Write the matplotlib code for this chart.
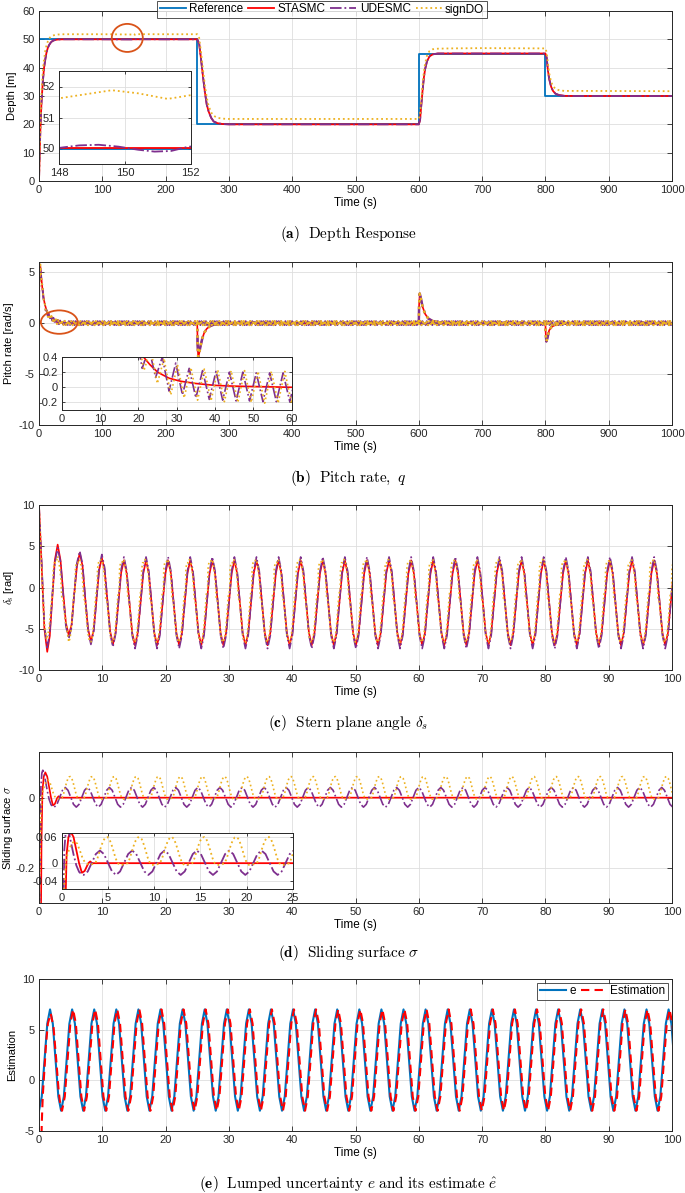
import numpy as np
import matplotlib
matplotlib.use('Agg')
import matplotlib.pyplot as plt
from matplotlib.patches import Ellipse

plt.rcParams['font.family'] = ['Liberation Sans', 'DejaVu Sans']
plt.rcParams['mathtext.fontset'] = 'cm'
plt.rcParams['axes.unicode_minus'] = False

C_REF = '#0072BD'
C_STA = '#FF0000'
C_UDE = '#7E2F8E'
C_SDO = '#EDB120'
C_MARK = '#D95319'

PERIOD = 3.49  # oscillation period (c)-(e)

# ---------------- (a) depth response ----------------
dep_ref_t = [0, 250, 250, 600, 600, 800, 800, 1000]
dep_ref = [50, 50, 20, 20, 45, 45, 30, 30]

dep_sta_t = [0, 1, 2, 3, 4, 5, 6, 7, 8, 10, 12, 14, 16, 18, 20, 23, 26, 30, 35, 40, 250,
             253, 256, 259, 262, 265, 268, 272, 276, 282, 290, 300, 600,
             602, 604, 606, 608, 610, 613, 617, 622, 630, 800,
             802, 804, 806, 809, 812, 816, 822, 830, 850, 1000]
dep_sta = [0, 9, 17, 23, 28, 31.5, 35, 37.5, 40, 43, 45.5, 47, 48, 48.7, 49.2, 49.6, 49.8, 49.95, 50.0, 50.02, 50.02,
           48.5, 43, 37, 31.5, 27, 24.5, 22.3, 21.0, 20.4, 20.1, 20.0, 20.0,
           21.5, 27, 32, 36.5, 39.5, 42.3, 44, 44.7, 45.0, 45.0,
           43.5, 39, 36, 33.3, 31.8, 30.8, 30.3, 30.05, 30.0, 30.0]

dep_ude_t = [0, 1, 2, 3, 4, 5, 6, 7, 8, 10, 12, 14, 16, 18, 20, 23, 26, 30, 35, 40, 100,
             146, 147, 148, 148.6, 149.2, 149.8, 150.4, 150.9, 151.4, 151.9, 152.3, 153, 200, 250,
             253, 256, 259, 262, 265, 268, 272, 276, 282, 290, 300, 600,
             602, 604, 606, 608, 610, 613, 617, 622, 630, 800,
             802, 804, 806, 809, 812, 816, 822, 830, 850, 1000]
dep_ude = [0, 9, 17, 23, 28, 31.5, 35, 37.5, 40, 43, 45.5, 47, 48, 48.7, 49.2, 49.6, 49.8, 49.95, 50.0, 50.02, 50.0,
           49.95, 49.97, 50.02, 50.1, 50.12, 50.06, 49.96, 49.9, 49.92, 50.05, 50.1, 50.05, 50.0, 50.0,
           48.5, 43, 37, 31.5, 27, 24.5, 22.3, 21.0, 20.4, 20.1, 20.0, 20.0,
           21.5, 27, 32, 36.5, 39.5, 42.3, 44, 44.7, 45.0, 45.0,
           43.5, 39, 36, 33.3, 31.8, 30.8, 30.3, 30.05, 30.0, 30.0]

dep_sdo_t = [0, 1, 2, 3, 4, 5, 6, 7, 8, 10, 12, 14, 16, 18, 20, 23, 26, 30, 35, 40, 60, 100,
             147, 148, 148.8, 149.6, 150.4, 151.3, 152, 152.8, 200, 250,
             253, 256, 259, 262, 265, 268, 272, 276, 282, 290, 300, 450, 600,
             602, 604, 606, 608, 610, 613, 617, 622, 630, 650, 700, 800,
             802, 804, 806, 809, 812, 816, 822, 830, 850, 1000]
dep_sdo = [0, 10, 19, 26, 31, 35, 38.5, 41, 43, 46, 48, 49.3, 50.2, 50.8, 51.1, 51.4, 51.6, 51.7, 51.75, 51.8, 51.8, 51.8,
           51.7, 51.62, 51.75, 51.88, 51.78, 51.6, 51.72, 51.82, 51.8, 51.8,
           50.5, 45.5, 39.5, 34, 29.5, 26.5, 24.2, 23.0, 22.3, 22.0, 21.9, 21.9, 21.9,
           23.5, 29, 34, 38.5, 41.5, 44.3, 45.9, 46.5, 46.7, 46.8, 46.9, 46.8,
           45.5, 41.5, 38, 35, 33.5, 32.5, 32.0, 31.8, 31.8, 31.7]

# ---------------- (b) pitch rate ----------------
q_sta_head_t = [0, 0.3, 1, 2, 3.5, 5, 7, 9, 11, 13, 16, 19, 21, 23, 25, 28, 31, 35, 40, 45, 50, 55, 60]
q_sta_head = [0, 3.5, 5.5, 5.6, 4.6, 3.6, 2.6, 1.9, 1.45, 1.05, 0.7, 0.52, 0.42, 0.3, 0.2, 0.12, 0.08, 0.05,
              0.025, 0.015, 0.01, 0.005, 0.0]
q_jump_t = [60, 250, 250.5, 251.5, 253, 255, 258, 261, 265, 270, 276, 285, 300,
            600, 600.5, 601.5, 603, 606, 610, 615, 622, 632, 650,
            800, 800.5, 801.5, 803, 806, 810, 816, 825, 840, 1000]
q_jump = [0, 0, -2.0, -3.3, -3.0, -2.3, -1.5, -0.95, -0.55, -0.3, -0.15, -0.05, 0,
          0, 1.8, 2.9, 2.5, 1.6, 0.9, 0.45, 0.2, 0.08, 0,
          0, -1.0, -1.8, -1.5, -0.7, -0.35, -0.18, -0.07, -0.02, 0]

q_ude_head_t = [0, 0.3, 1.75, 3.5, 5.25, 7.0, 8.75, 10.5, 12.25, 14.0, 15.75, 17.5, 19.25, 21.0, 22.75,
                24.5, 26.25, 28.0, 29.75, 31.5, 33.25, 35.0, 36.75, 38.5, 40.25, 42.0, 43.75, 45.5,
                47.25, 49.0, 50.75, 52.5, 54.25, 56.0, 57.75, 59.5]
q_ude_head = [0, 3.5, 5.75, 4.3, 3.7, 2.4, 2.15, 1.25, 1.25, 0.65, 0.9, 0.48, 0.75, 0.25, 0.52,
              0.13, 0.4, -0.05, 0.32, -0.1, 0.25, -0.14, 0.22, -0.16, 0.21, -0.17, 0.2, -0.18,
              0.2, -0.18, 0.19, -0.19, 0.19, -0.19, 0.19, -0.19]
q_ude_cycle = [0.19, -0.19]
q_ude_start = 61.25

q_sdo_head_t = [0, 0.3, 2.2, 3.95, 5.7, 7.45, 9.2, 10.95, 12.7, 14.45, 16.2, 17.95, 19.7, 21.45, 23.2,
                24.95, 26.7, 28.45, 30.2, 31.95, 33.7, 35.45, 37.2, 38.95, 40.7, 42.45, 44.2, 45.95,
                47.7, 49.45, 51.2, 52.95, 54.7, 56.45, 58.2, 59.95]
q_sdo_head = [0, 3.5, 5.75, 4.05, 3.45, 2.2, 1.95, 1.05, 1.15, 0.6, 0.85, 0.45, 0.7, 0.22, 0.5,
              0.05, 0.38, -0.1, 0.3, -0.14, 0.26, -0.17, 0.24, -0.18, 0.23, -0.19, 0.22, -0.2,
              0.22, -0.2, 0.21, -0.21, 0.21, -0.21, 0.21, -0.21]
q_sdo_cycle = [0.21, -0.21]
q_sdo_start = 61.7

# ---------------- (c) stern plane angle ----------------
ds_head_t = [0, 0.45, 0.85, 1.3, 1.7, 2.1, 2.5, 2.95, 3.4, 3.8, 4.25, 4.7, 5.15, 5.55, 6.0, 6.44,
             6.88, 7.3, 7.75, 8.2, 8.65, 9.07, 9.5, 9.93, 10.37, 10.8, 11.24, 11.68, 12.11, 12.55, 12.98]
ds_sta_head = [10.0, 2.0, -5.0, -7.8, -5.9, -1.3, 3.3, 5.2, 3.3, -0.4, -4.3, -5.8, -4.5, -0.9, 2.6, 4.2,
               2.6, -1.3, -5.0, -6.6, -5.1, -1.5, 2.1, 3.6, 2.1, -1.6, -5.3, -6.9, -5.4, -1.8, 1.8]
ds_ude_head = [10.0, 2.5, -4.6, -7.3, -5.5, -0.9, 3.0, 4.8, 3.1, -0.7, -4.7, -6.2, -4.8, -0.8, 3.0, 4.4,
               2.8, -1.2, -5.2, -6.9, -5.3, -1.5, 2.4, 4.0, 2.4, -1.6, -5.6, -7.2, -5.6, -1.7, 2.2]
ds_steady_start = 13.42
ds_sta_cycle = [3.3, 1.7, -1.9, -5.5, -7.0, -5.5, -1.9, 1.7]
ds_ude_cycle = [3.7, 2.0, -1.9, -5.8, -7.4, -5.8, -1.9, 2.0]

ds_sdo_head_t = [0, 0.45, 0.85, 1.2, 1.6, 2.0, 2.15, 2.25, 2.4, 2.7, 2.95, 3.2, 3.45, 3.55, 3.6, 3.8, 4.1, 4.45]
ds_sdo_head = [10.0, 1.5, -4.5, -6.3, -5.0, -1.5, -0.8, 2.0, 3.0, 3.0, 3.8, 2.8, 1.2, -0.5, -1.2, -1.5, -3.5, -5.3]
ds_sdo_start = 4.7
ds_sdo_phase = [0.0, 0.22, 0.44, 0.65, 0.8, 0.87, 1.0, 1.05, 1.2, 1.45, 1.6, 1.745, 1.95, 2.17, 2.3,
                2.35, 2.55, 2.7, 2.92, 3.14, 3.36]
ds_sdo_cycle = [-6.6, -6.1, -4.5, -2.4, -0.8, -0.6, -0.5, 2.2, 3.0, 3.0, 3.4, 3.3, 2.6, 1.2, -0.3,
                -1.3, -1.6, -2.9, -4.8, -6.1, -6.6]

# ---------------- (d) sliding surface ----------------
sig_sta_t = [0.25, 0.4, 0.55, 0.75, 1.0, 1.3, 1.6, 1.9, 2.2, 2.5, 2.9, 3.1, 3.3, 100]
sig_sta = [-0.5, -0.12, 0.02, 0.06, 0.072, 0.06, 0.03, 0.0, -0.022, -0.018, 0.0, 0.004, 0.0, 0.0]

sig_ude_head_t = [0.0, 0.15, 0.3, 0.45, 0.6, 0.8, 1.0, 1.3, 1.6, 1.9, 2.2]
sig_ude_head = [-0.5, -0.2, 0.03, 0.07, 0.078, 0.07, 0.05, 0.02, -0.005, -0.02, -0.026]
sig_ude_start = 2.4
sig_ude_cycle = [-0.027, -0.019, 0.001, 0.021, 0.029, 0.021, 0.001, -0.019]

sig_sdo_head_t = [0.0, 0.1, 0.3, 0.5, 0.8, 1.1, 1.4, 1.7, 2.0, 2.3, 2.6, 3.0, 3.4]
sig_sdo_head = [-0.5, -0.25, -0.05, 0.01, 0.03, 0.045, 0.05, 0.045, 0.028, 0.01, 0.0, -0.003, -0.002]
sig_sdo_start = 3.65
sig_sdo_cycle = [0.0, 0.01, 0.025, 0.04, 0.052, 0.059, 0.06, 0.055, 0.043, 0.028, 0.012, 0.001,
                 -0.004, -0.004, -0.003, -0.002]

# ---------------- (e) lumped uncertainty ----------------
e_start = 0.0
e_cycle = [-3.0, -1.6, 2.0, 5.6, 7.0, 5.6, 2.0, -1.6]
est_head_t = [0.3, 0.45, 0.6, 0.85, 1.1, 1.4, 1.85, 2.3, 2.7, 3.1, 3.4]
est_head = [-8.0, -4.0, -1.5, 1.0, 3.5, 5.6, 6.6, 5.2, 2.2, -1.0, -2.6]
est_start = 3.64
est_cycle = [-3.0, -1.6, 2.0, 5.6, 7.0, 5.6, 2.0, -1.6]


def periodic(head_t, head_v, t0, cycle, t_end, phase=None):
    # repeat one read-off steady-state cycle after the transient head
    cycle = np.asarray(cycle, float)
    if phase is None:
        phase = np.arange(len(cycle)) * PERIOD / len(cycle)
    n = int(np.ceil((t_end - t0) / PERIOD)) + 1
    t = (t0 + PERIOD * np.arange(n)[:, None] + np.asarray(phase)[None, :]).ravel()
    return (np.concatenate([np.asarray(head_t, float), t]),
            np.concatenate([np.asarray(head_v, float), np.tile(cycle, n)]))


q_sta_t = np.concatenate([q_sta_head_t, q_jump_t])
q_sta = np.concatenate([q_sta_head, q_jump])
q_ude_t, q_ude = periodic(q_ude_head_t, q_ude_head, q_ude_start, q_ude_cycle, 1000, [0, PERIOD / 2])
q_sdo_t, q_sdo = periodic(q_sdo_head_t, q_sdo_head, q_sdo_start, q_sdo_cycle, 1000, [0, PERIOD / 2])

ds_sta_t, ds_sta = periodic(ds_head_t, ds_sta_head, ds_steady_start, ds_sta_cycle, 100)
ds_ude_t, ds_ude = periodic(ds_head_t, ds_ude_head, ds_steady_start, ds_ude_cycle, 100)
ds_sdo_t, ds_sdo = periodic(ds_sdo_head_t, ds_sdo_head, ds_sdo_start, ds_sdo_cycle, 100, ds_sdo_phase)

sig_ude_t, sig_ude = periodic(sig_ude_head_t, sig_ude_head, sig_ude_start, sig_ude_cycle, 100)
sig_sdo_t, sig_sdo = periodic(sig_sdo_head_t, sig_sdo_head, sig_sdo_start, sig_sdo_cycle, 100)

e_t, e_val = periodic([], [], e_start, e_cycle, 100)
est_t, est_val = periodic(est_head_t, est_head, est_start, est_cycle, 100)

# ---------------- figure ----------------
W, H = 685, 1193
fig = plt.figure(figsize=(W / 100, H / 100), dpi=100)
LEFT, RIGHT = 39, 672


def rect(x0, y0, x1, y1):
    return [x0 / W, 1 - y1 / H, (x1 - x0) / W, (y1 - y0) / H]


def style(ax, inset=False):
    ax.tick_params(direction='in', top=True, right=True, length=2.5 if inset else 3.5,
                   width=0.6, labelsize=8, colors='#262626', pad=3)
    for s in ax.spines.values():
        s.set_color('#262626')
        s.set_linewidth(0.7)
    ax.grid(True, color='#DEDEDE', linewidth=0.6)
    ax.set_axisbelow(True)


def ylabel(ax, text, x_px):
    # place the y label centre at a fixed pixel column like the reference
    ax.set_ylabel(text, fontsize=8)
    ax.yaxis.label.set_va('center')
    ax.yaxis.set_label_coords((x_px - LEFT) / (RIGHT - LEFT), 0.5)


def xlabel(ax):
    ax.set_xlabel('Time (s)', fontsize=8.5, labelpad=1)


def caption(y, text):
    fig.text(0.508, 1 - y / H, text, ha='center', va='center', fontsize=11)


# (a)
ax = fig.add_axes(rect(LEFT, 11, RIGHT, 181))
style(ax)
ax.plot(dep_ref_t, dep_ref, color=C_REF, lw=1.3, label='Reference')
ax.plot(dep_sta_t, dep_sta, color=C_STA, lw=1.3, label='STASMC')
ax.plot(dep_ude_t, dep_ude, color=C_UDE, lw=1.3, ls='-.', label='UDESMC')
ax.plot(dep_sdo_t, dep_sdo, color=C_SDO, lw=1.3, ls=':', label='signDO')
ax.set_xlim(0, 1000)
ax.set_ylim(0, 60)
ax.set_xticks(range(0, 1001, 100))
ax.set_yticks(range(0, 61, 10))
xlabel(ax)
ylabel(ax, 'Depth [m]', 12)
ax.add_patch(Ellipse((139.5, 50.5), 49, 9.9, fill=False, ec=C_MARK, lw=1.3, zorder=6))
leg = ax.legend(loc='center', bbox_to_anchor=(322 / W, 1 - 9.5 / H), bbox_transform=fig.transFigure,
                ncol=4, fontsize=8.5, frameon=True, fancybox=False, edgecolor='#262626',
                handlelength=2.2, handletextpad=0.3, columnspacing=0.4, borderpad=0.25,
                borderaxespad=0)
leg.get_frame().set_linewidth(0.7)
leg.set_zorder(10)

axi = fig.add_axes(rect(59.3, 71, 190.7, 164))
style(axi, inset=True)
axi.plot(dep_ref_t, dep_ref, color=C_REF, lw=1.3)
axi.plot(dep_sta_t, dep_sta, color=C_STA, lw=1.3)
axi.plot(dep_ude_t, dep_ude, color=C_UDE, lw=1.3, ls='-.')
axi.plot(dep_sdo_t, dep_sdo, color=C_SDO, lw=1.3, ls=':')
axi.set_xlim(148, 152)
axi.set_ylim(49.5, 52.5)
axi.set_xticks([148, 150, 152])
axi.set_yticks([50, 51, 52])
caption(234, r'$\mathbf{(a)}\ \ \mathrm{Depth\ Response}$')

# (b)
ax = fig.add_axes(rect(LEFT, 262, RIGHT, 425))
style(ax)
ax.plot(q_sta_t, q_sta, color=C_STA, lw=1.2)
ax.plot(q_ude_t, q_ude, color=C_UDE, lw=1.4, ls='-.')
ax.plot(q_jump_t, q_jump, color=C_UDE, lw=1.8, ls='-.')
ax.plot(q_sdo_t, q_sdo, color=C_SDO, lw=1.4, ls=':')
ax.plot(q_jump_t, q_jump, color=C_SDO, lw=1.8, ls=':')
ax.set_xlim(0, 1000)
ax.set_ylim(-10, 6)
ax.set_xticks(range(0, 1001, 100))
ax.set_yticks([-10, -5, 0, 5])
xlabel(ax)
ylabel(ax, 'Pitch rate [rad/s]', 9)
ax.add_patch(Ellipse((32, 0.1), 58, 2.3, fill=False, ec=C_MARK, lw=1.3, zorder=6))

axi = fig.add_axes(rect(61.7, 357, 291.7, 410))
style(axi, inset=True)
axi.plot(q_sta_t, q_sta, color=C_STA, lw=1.2)
axi.plot(q_ude_t, q_ude, color=C_UDE, lw=1.2, ls='-.')
axi.plot(q_sdo_t, q_sdo, color=C_SDO, lw=1.2, ls=':')
axi.set_xlim(0, 60)
axi.set_ylim(-0.3, 0.4)
axi.set_xticks(range(0, 61, 10))
axi.set_yticks([-0.2, 0, 0.2, 0.4])
axi.set_yticklabels(['-0.2', '0', '0.2', '0.4'])
caption(478, r'$\mathbf{(b)}\ \ \mathrm{Pitch\ rate,}\ q$')

# (c)
ax = fig.add_axes(rect(LEFT, 505, RIGHT, 670))
style(ax)
ax.plot(ds_sta_t, ds_sta, color=C_STA, lw=1.2)
ax.plot(ds_ude_t, ds_ude, color=C_UDE, lw=1.2, ls='-.')
ax.plot(ds_sdo_t, ds_sdo, color=C_SDO, lw=1.2, ls=':')
ax.set_xlim(0, 100)
ax.set_ylim(-10, 10)
ax.set_xticks(range(0, 101, 10))
ax.set_yticks([-10, -5, 0, 5, 10])
xlabel(ax)
ylabel(ax, r'$\delta_{\rm s}$ [rad]', 9)
caption(723, r'$\mathbf{(c)}\ \ \mathrm{Stern\ plane\ angle}\ \delta_s$')

# (d)
ax = fig.add_axes(rect(LEFT, 752, RIGHT, 903))
style(ax)
ax.plot(sig_sta_t, sig_sta, color=C_STA, lw=1.2)
ax.plot(sig_ude_t, sig_ude, color=C_UDE, lw=1.2, ls='-.')
ax.plot(sig_sdo_t, sig_sdo, color=C_SDO, lw=1.2, ls=':')
ax.set_xlim(0, 100)
ax.set_ylim(-0.3, 0.13)
ax.set_xticks(range(0, 101, 10))
ax.set_yticks([-0.2, 0])
ax.set_yticklabels(['-0.2', '0'])
xlabel(ax)
ylabel(ax, r'Sliding surface $\sigma$', 8)

axi = fig.add_axes(rect(61.5, 832.7, 293, 889.3))
style(axi, inset=True)
axi.plot(sig_sta_t, sig_sta, color=C_STA, lw=1.3)
axi.plot(sig_ude_t, sig_ude, color=C_UDE, lw=1.3, ls='-.')
axi.plot(sig_sdo_t, sig_sdo, color=C_SDO, lw=1.3, ls=':')
axi.set_xlim(0, 25)
axi.set_ylim(-0.06, 0.07)
axi.set_xticks(range(0, 26, 5))
axi.set_yticks([-0.04, 0, 0.06])
axi.set_yticklabels(['-0.04', '0', '0.06'])
caption(953, r'$\mathbf{(d)}\ \ \mathrm{Sliding\ surface}\ \sigma$')

# (e)
ax = fig.add_axes(rect(LEFT, 979, RIGHT, 1131))
style(ax)
ax.plot(e_t, e_val, color=C_REF, lw=1.5, label='e')
ax.plot(est_t, est_val, color=C_STA, lw=1.5, ls=(0, (4, 2.5)), label='Estimation')
ax.set_xlim(0, 100)
ax.set_ylim(-5, 10)
ax.set_xticks(range(0, 101, 10))
ax.set_yticks([-5, 0, 5, 10])
xlabel(ax)
ylabel(ax, 'Estimation', 12)
leg = ax.legend(loc='upper right', ncol=2, fontsize=8.5, fancybox=False, edgecolor='#262626',
                handlelength=2.2, handletextpad=0.3, columnspacing=0.4, borderpad=0.25,
                borderaxespad=0.3)
leg.get_frame().set_linewidth(0.7)
caption(1184, r'$\mathbf{(e)}\ \ \mathrm{Lumped\ uncertainty}\ e\ \mathrm{and\ its\ estimate}\ \hat{e}$')

fig.savefig('out.png', dpi=100)
